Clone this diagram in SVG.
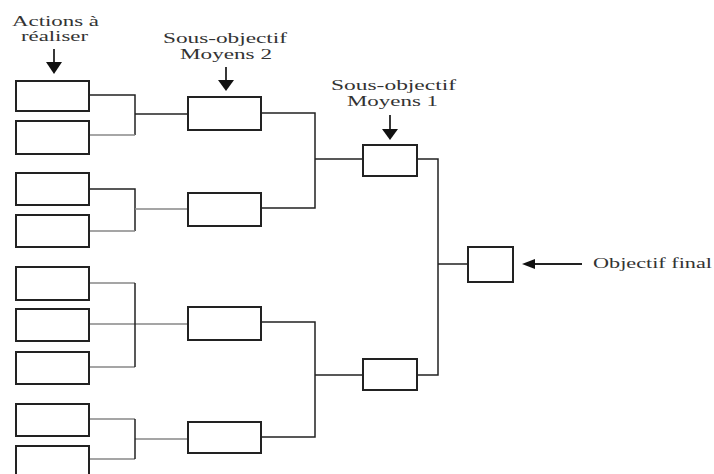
<svg xmlns="http://www.w3.org/2000/svg" width="714" height="474" viewBox="0 0 714 474">
<style>
.box{fill:#fff;stroke:#222;stroke-width:2}
.c{fill:none;stroke:#222;stroke-width:1.5}
.g{fill:none;stroke:#888;stroke-width:1.5}
.t{font-family:"Liberation Serif","Times New Roman",serif;font-size:14px;fill:#333}
.arr{stroke:#222;stroke-width:1.8;fill:none}
</style>
<g id="connectors">
<path class="c" d="M89,95 H135 V135"/>
<path class="g" d="M89,135 H135"/>
<path class="c" d="M135,114 H188"/>
<path class="c" d="M89,189 H135 V231"/>
<path class="g" d="M89,231 H135 M135,209 H188"/>
<path class="g" d="M89,283 H135 M89,324 H188 M89,367 H135"/>
<path class="c" d="M135,283 V367"/>
<path class="g" d="M89,419 H135 M89,459 H135 M135,439 H188"/>
<path class="c" d="M135,419 V459"/>
<path class="c" d="M261,113 H315 V208 H261 M315,159 H363"/>
<path class="c" d="M261,322 H315 V437 H261 M315,375 H363"/>
<path class="c" d="M417,159 H438 V375 H417 M438,264 H468"/>
<path class="arr" d="M54,49 V62"/>
<path d="M46,62 L62,62 L54,74 Z" fill="#111"/>
<path class="arr" d="M226,67 V80" stroke="#666"/>
<path d="M218,80 L234,80 L226,91 Z" fill="#111"/>
<path class="arr" d="M390,115 V129" stroke="#666"/>
<path d="M382,129 L398,129 L390,140 Z" fill="#111"/>
<path class="arr" d="M582,264 H535"/>
<path d="M535,259 L535,269 L522,264 Z" fill="#111"/>
</g>
<g id="a1"><rect class="box" x="16" y="81" width="73" height="30"/></g>
<g id="a2"><rect class="box" x="16" y="121" width="73" height="33"/></g>
<g id="a3"><rect class="box" x="16" y="173" width="73" height="32"/></g>
<g id="a4"><rect class="box" x="16" y="215" width="73" height="32"/></g>
<g id="a5"><rect class="box" x="16" y="267" width="73" height="33"/></g>
<g id="a6"><rect class="box" x="16" y="309" width="73" height="32"/></g>
<g id="a7"><rect class="box" x="16" y="352" width="73" height="32"/></g>
<g id="a8"><rect class="box" x="16" y="404" width="73" height="32"/></g>
<g id="a9"><rect class="box" x="16" y="446" width="73" height="32"/></g>
<g id="m2a"><rect class="box" x="188" y="97" width="73" height="33"/></g>
<g id="m2b"><rect class="box" x="188" y="193" width="73" height="33"/></g>
<g id="m2c"><rect class="box" x="188" y="307" width="73" height="33"/></g>
<g id="m2d"><rect class="box" x="188" y="422" width="73" height="31"/></g>
<g id="m1a"><rect class="box" x="363" y="145" width="54" height="31"/></g>
<g id="m1b"><rect class="box" x="363" y="359" width="54" height="31"/></g>
<g id="final"><rect class="box" x="468" y="247" width="45" height="35"/></g>
<g id="labels">
<text class="t" x="12" y="26" textLength="87" lengthAdjust="spacingAndGlyphs">Actions à</text>
<text class="t" x="21" y="41" textLength="67" lengthAdjust="spacingAndGlyphs">réaliser</text>
<text class="t" x="163" y="43" textLength="124" lengthAdjust="spacingAndGlyphs">Sous-objectif</text>
<text class="t" x="180" y="59" textLength="92" lengthAdjust="spacingAndGlyphs">Moyens 2</text>
<text class="t" x="331" y="90" textLength="125" lengthAdjust="spacingAndGlyphs">Sous-objectif</text>
<text class="t" x="347" y="106" textLength="91" lengthAdjust="spacingAndGlyphs">Moyens 1</text>
<text class="t" x="593" y="268" textLength="119" lengthAdjust="spacingAndGlyphs">Objectif final</text>
</g>
</svg>
